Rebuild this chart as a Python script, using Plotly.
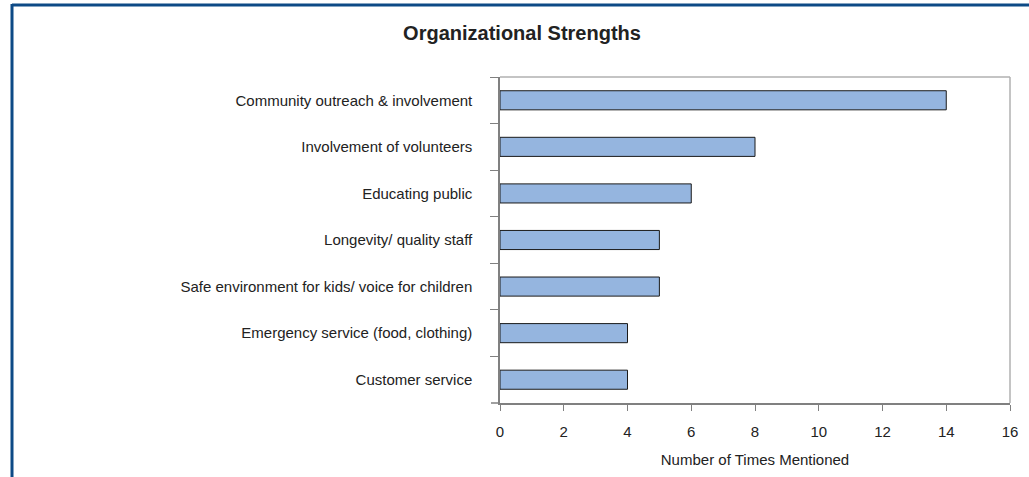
import plotly.graph_objects as go

categories = [
    "Community outreach & involvement",
    "Involvement of volunteers",
    "Educating public",
    "Longevity/ quality staff",
    "Safe environment for kids/ voice for children",
    "Emergency service (food, clothing)",
    "Customer service",
]
values = [14, 8, 6, 5, 5, 4, 4]
x_ticks = [0, 2, 4, 6, 8, 10, 12, 14, 16]

W, H = 1029, 477
L, R, T, B = 500, 1010, 77, 403

def px(x):
    return (x - L) / (R - L)

def py(y):
    return (B - y) / (B - T)

fig = go.Figure(go.Bar(
    y=categories, x=values, orientation="h",
    marker=dict(color="#95b5df", line=dict(color="#1a1a1a", width=1)),
    width=0.41,
))

font = "Liberation Sans, Arial, sans-serif"
fig.update_layout(
    width=W, height=H,
    margin=dict(l=L, r=W - R, t=T, b=H - B),
    paper_bgcolor="white", plot_bgcolor="white",
    showlegend=False,
    title=dict(text="<b>Organizational Strengths</b>", xref="container", x=522 / W, xanchor="center",
               yref="container", y=1 - 33 / H, yanchor="middle",
               font=dict(family=font, size=20, color="#222222")),
    font=dict(family=font, color="#222222"),
)
fig.update_xaxes(
    range=[0, 16], tickvals=x_ticks, ticktext=[str(v) for v in x_ticks],
    showgrid=False, zeroline=False,
    showline=True, linecolor="#808080", linewidth=1.5,
    ticks="outside", ticklen=6, tickcolor="#808080", ticklabelstandoff=8,
    tickfont=dict(size=15, color="#222222"),
    title=dict(text="Number of Times Mentioned", font=dict(size=15, color="#222222"), standoff=16),
)
fig.update_yaxes(
    autorange="reversed", showgrid=False, zeroline=False,
    showline=True, linecolor="#808080", linewidth=1.5,
    ticks="outside", ticklen=8, tickcolor="#808080", tickson="boundaries",
    tickfont=dict(size=15, color="#222222"), ticklabelstandoff=23,
)
# plot-area frame (top and right edges)
fig.add_shape(type="line", xref="paper", yref="paper", x0=0, x1=1, y0=1, y1=1,
              line=dict(color="#b0b0b0", width=1.5))
fig.add_shape(type="line", xref="paper", yref="paper", x0=1, x1=1, y0=0, y1=1,
              line=dict(color="#b0b0b0", width=1.5))
# extension of bottom axis line to the left
fig.add_shape(type="line", xref="paper", yref="paper", x0=px(491), x1=0, y0=0, y1=0,
              line=dict(color="#808080", width=1.5))
# outer blue frame (top and left)
fig.add_shape(type="line", xref="paper", yref="paper", x0=px(12), x1=px(1029), y0=py(5), y1=py(5),
              line=dict(color="#0d4a86", width=3))
fig.add_shape(type="line", xref="paper", yref="paper", x0=px(12), x1=px(12), y0=py(4), y1=py(477),
              line=dict(color="#0d4a86", width=3))

fig.write_html("out.html", config={"displayModeBar": False},
               post_script="document.body.style.margin='0';")
